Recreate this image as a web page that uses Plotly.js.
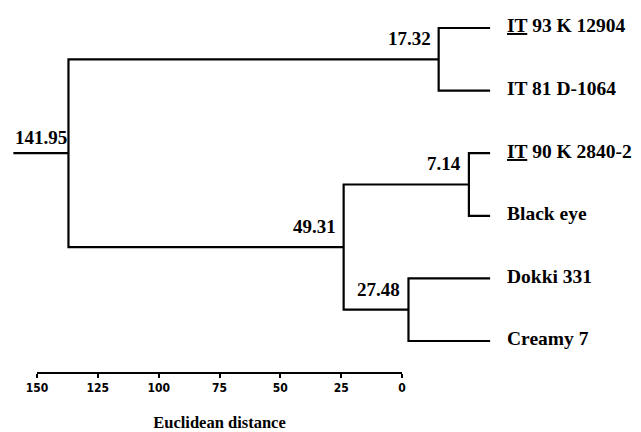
<!DOCTYPE html>
<html>
<head>
<meta charset="utf-8">
<script src="https://cdn.plot.ly/plotly-3.0.1.min.js"></script>
<style>html,body{margin:0;padding:0;background:#fff;}#chart{width:641px;height:432px;}</style>
</head>
<body>
<div id="chart"></div>
<script>
// Leaves, top to bottom
const leaves = ["<u>IT</u> 93 K 12904", "IT 81 D-1064", "<u>IT</u> 90 K 2840-2", "Black eye", "Dokki 331", "Creamy 7"];
// Merges: [childA, childB, height]; new nodes numbered from leaves.length upward
const mergeA = [0, 2, 4, 7, 6];
const mergeB = [1, 3, 5, 8, 9];
const mergeHeight = [17.32, 7.14, 27.48, 49.31, 141.95];
const mergeLabels = ["17.32", "7.14", "27.48", "49.31", "141.95"];
const rootStub = 160.5;
// Distance scale ticks
const scaleTicks = [150, 125, 100, 75, 50, 25, 0];
const scaleTickText = ["150", "125", "100", "75", "50", "25", "0"];

const nodeX = [], nodeY = [];
leaves.forEach((l, i) => { nodeX.push(0); nodeY.push(i); });
const lx = [], ly = [];
const annotations = [];
for (let k = 0; k < mergeHeight.length; k++) {
  const a = mergeA[k], b = mergeB[k], h = mergeHeight[k];
  lx.push(nodeX[a], h, h, nodeX[b], null);
  ly.push(nodeY[a], nodeY[a], nodeY[b], nodeY[b], null);
  nodeX.push(h);
  nodeY.push((nodeY[a] + nodeY[b]) / 2);
}
const root = nodeX.length - 1;
lx.push(nodeX[root], rootStub, null);
ly.push(nodeY[root], nodeY[root], null);

const serif = "Liberation Serif, Times New Roman, serif";
for (let k = 0; k < mergeHeight.length; k++) {
  const n = leaves.length + k;
  const isRoot = (n === root);
  annotations.push({
    x: nodeX[n], y: nodeY[n], xref: "x", yref: "y",
    text: "<b>" + mergeLabels[k] + "</b>", showarrow: false,
    xanchor: "right", yanchor: "bottom", xshift: isRoot ? 1 : -6, yshift: isRoot ? 3 : 8,
    font: {family: serif, size: 19, color: "#000"}
  });
}
leaves.forEach((l, i) => {
  annotations.push({
    x: 0, y: i, xref: "x", yref: "y",
    text: "<b>" + l + "</b>", showarrow: false,
    xanchor: "left", yanchor: "middle", xshift: 15, yshift: 2,
    font: {family: serif, size: 19.5, color: "#000"}
  });
});

const traces = [
  {type: "scatter", mode: "lines", x: lx, y: ly, xaxis: "x", yaxis: "y",
   line: {color: "#000", width: 2.2}, hoverinfo: "skip", showlegend: false},
  {type: "scatter", mode: "markers", x: [150, 0], y: [null, null], xaxis: "x2", yaxis: "y",
   marker: {opacity: 0}, hoverinfo: "skip", showlegend: false}
];

const layout = {
  width: 641, height: 432,
  margin: {l: 0, r: 0, t: 0, b: 0},
  paper_bgcolor: "#fff", plot_bgcolor: "rgba(0,0,0,0)",
  showlegend: false,
  xaxis: {domain: [0, 1], range: [165.0, -50.8], visible: false, fixedrange: true},
  yaxis: {domain: [0, 1], range: [6.454, -0.447], visible: false, fixedrange: true},
  xaxis2: {
    domain: [37 / 641, 402 / 641], range: [150, 0], anchor: "free", position: 1 - 373 / 432,
    showline: true, linecolor: "#000", linewidth: 2, showgrid: false, zeroline: false,
    ticks: "outside", ticklen: 4, tickwidth: 2, tickcolor: "#000",
    tickmode: "array", tickvals: scaleTicks, ticktext: scaleTickText,
    tickfont: {family: "Liberation Sans Narrow, DejaVu Sans Condensed, sans-serif", size: 12, color: "#000", weight: "bold"},
    title: {text: "<b>Euclidean distance</b>", font: {family: serif, size: 16.5, color: "#000"}, standoff: 21},
    fixedrange: true
  },
  annotations: annotations
};

Plotly.newPlot("chart", traces, layout, {staticPlot: true, displayModeBar: false});
</script>
</body>
</html>
